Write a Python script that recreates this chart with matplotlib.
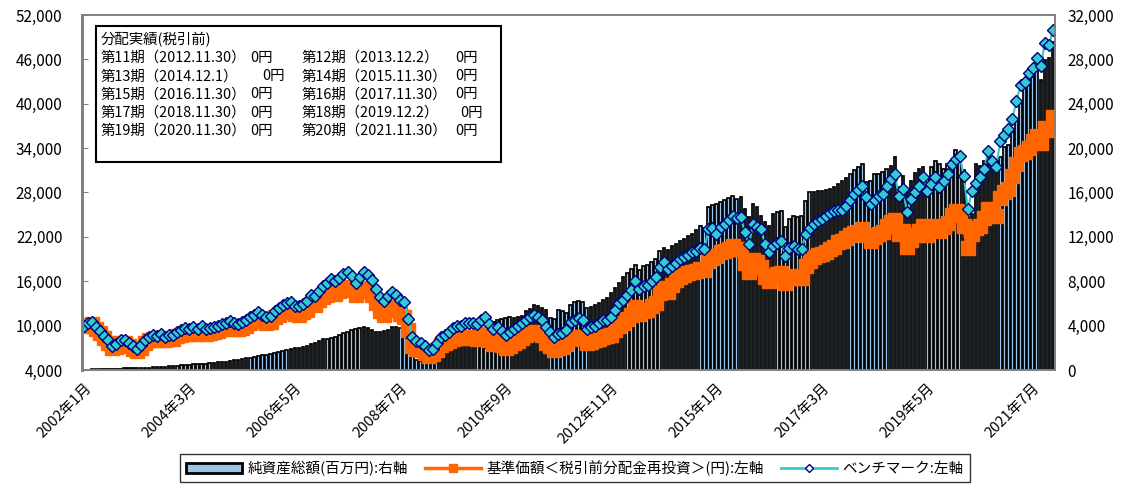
import numpy as np
import matplotlib.pyplot as plt
from matplotlib.patches import Rectangle, Patch
from matplotlib.lines import Line2D
from matplotlib.ticker import FuncFormatter

plt.rcParams['font.family'] = ['Noto Sans CJK JP', 'DejaVu Sans']

# 月次：2002年1月～2021年12月
months = [f"{y}年{m}月" for y in range(2002, 2022) for m in range(1, 13)]

# 純資産総額(百万円)：右軸
net_assets = [
    30, 40, 60, 70, 80, 90, 100, 110, 110, 130, 140, 150,                        # 2002
    160, 170, 180, 190, 210, 230, 250, 280, 300, 320, 350, 380,                  # 2003
    420, 460, 480, 500, 520, 550, 580, 600, 640, 680, 720, 760,                  # 2004
    800, 860, 900, 960, 1050, 1120, 1200, 1280, 1330, 1380, 1450, 1550,          # 2005
    1600, 1680, 1780, 1900, 1950, 1980, 2080, 2200, 2350, 2450, 2600, 2750,      # 2006
    2800, 2900, 3000, 3150, 3300, 3470, 3600, 3700, 3800, 3920, 3800, 3600,      # 2007
    3450, 3400, 3500, 3630, 3920, 3850, 3750, 3800, 2450, 1500, 900, 800,        # 2008
    750, 700, 750, 1000, 1540, 1800, 2000, 2270, 2300, 2250, 2300, 2270,         # 2009
    2300, 2270, 2350, 1990, 4380, 4300, 4500, 4600, 4700, 4750, 4700, 4800,      # 2010
    4900, 5300, 5500, 5900, 5800, 5600, 5400, 4700, 4600, 5440, 5300, 5170,      # 2011
    5900, 6160, 6190, 6150, 5620, 5700, 5900, 6070, 6300, 6530, 6900, 7430,      # 2012
    7800, 8340, 8700, 9070, 9500, 9000, 9360, 9500, 9700, 10000, 10720, 11000,   # 2013
    10800, 11180, 11400, 11630, 11800, 12080, 12300, 12600, 13000, 12800, 14680, 14900,  # 2014
    15000, 15140, 15300, 15500, 15700, 15400, 15600, 14500, 13800, 14960, 14700, 13900,  # 2015
    13300, 13000, 14050, 14200, 14350, 12870, 13600, 13900, 13800, 13900, 15260, 16040,  # 2016
    16000, 16160, 16100, 16200, 16300, 16500, 16770, 17000, 17300, 17680, 18000, 18300,  # 2017
    18580, 16950, 17000, 17680, 17700, 17830, 18100, 18430, 19220, 16500, 17500, 16000,  # 2018
    17070, 17800, 18130, 18310, 17300, 18300, 18880, 18580, 18130, 18600, 18880, 19790,  # 2019
    19340, 18000, 13750, 14050, 18580, 18430, 18800, 19220, 18430, 18600, 19220, 20100,  # 2020
    20240, 21450, 22660, 24170, 25380, 25900, 26450, 27200, 26140, 27950, 28100, 29600,  # 2021
]

# 基準価額＜税引前分配金再投資＞(円)：左軸
nav = [
    10000, 10100, 10200, 9500, 9000, 8300, 7700, 7000, 7100, 7600, 7700, 7200,
    6900, 6600, 7000, 7700, 8000, 8200, 8100, 8300, 8000, 8200, 8200, 8600,
    8800, 9000, 8900, 9100, 8900, 9200, 8900, 9000, 9100, 9300, 9500, 9700,
    9800, 9600, 9500, 9700, 10000, 10400, 10600, 10900, 10600, 10300, 10500, 11100,
    11500, 11800, 12000, 12200, 11600, 11500, 11800, 12100, 12900, 12800, 13400, 13900,
    14200, 14600, 14300, 14700, 15000, 15200, 14800, 14100, 14700, 15100, 14800, 14200,
    13100, 12000, 11500, 12100, 12500, 12200, 11600, 11200, 9400, 7300, 6800, 6700,
    6300, 5900, 6100, 6700, 7400, 7600, 7900, 8200, 8300, 8300, 8500, 8500,
    8300, 8200, 8600, 8900, 8100, 7500, 7800, 7400, 7000, 7300, 7600, 7900,
    8300, 8700, 9000, 9200, 9000, 8700, 7700, 7200, 6700, 7000, 7100, 7500,
    8200, 8400, 8500, 8300, 7600, 7800, 8000, 8200, 8500, 8600, 8800, 9400,
    10000, 10400, 10900, 11400, 12500, 11600, 12000, 12100, 12600, 13100, 14400, 15100,
    14600, 15500, 16200, 16600, 16900, 17100, 17300, 17400, 17700, 17500, 18800, 19200,
    19400, 19900, 20100, 20300, 20700, 20300, 20400, 18500, 17300, 18900, 18600, 17900,
    16600, 16000, 16700, 17000, 17100, 15800, 16500, 16700, 16500, 16500, 18000, 18800,
    19300, 19600, 19700, 20000, 20300, 20600, 21300, 21400, 21900, 22200, 22500, 22700,
    23100, 22200, 21500, 22000, 22400, 22700, 23500, 24000, 24300, 22400, 22800, 20600,
    21600, 22200, 22800, 23500, 22300, 23000, 23500, 22800, 23300, 23900, 24900, 25500,
    25400, 23500, 20500, 22400, 23200, 23500, 24500, 25800, 25200, 24800, 27300, 28000,
    28500, 30200, 31800, 33200, 33500, 34000, 34900, 35600, 34700, 36700, 36500, 38200,
]

# ベンチマーク：左軸
bench = [
    10000, 10300, 10500, 9800, 9300, 8600, 8000, 7300, 7500, 8000, 8100, 7600,
    7200, 6900, 7400, 8100, 8500, 8700, 8600, 8900, 8500, 8800, 8800, 9200,
    9400, 9700, 9500, 9800, 9600, 9900, 9600, 9700, 9850, 10000, 10200, 10400,
    10600, 10300, 10200, 10500, 10800, 11200, 11500, 11800, 11400, 11100, 11300, 12000,
    12400, 12800, 13000, 13250, 12700, 12600, 12900, 13300, 14200, 14000, 14700, 15300,
    15800, 16300, 16000, 16500, 17000, 17300, 16700, 15800, 16600, 17200, 16900, 16200,
    15000, 13900, 13300, 14000, 14600, 14200, 13500, 13250, 10900, 8500, 7900, 7700,
    7200, 6700, 6900, 7600, 8500, 8800, 9200, 9700, 9900, 10000, 10300, 10400,
    10300, 10200, 10700, 11100, 10200, 9500, 9800, 9300, 8800, 9200, 9600, 9900,
    10300, 10800, 11100, 11500, 11200, 10800, 9850, 9200, 8500, 8900, 9000, 9440,
    10500, 10800, 11000, 10800, 9500, 9800, 10000, 10300, 10700, 10800, 11200, 12160,
    13000, 13500, 14200, 14800, 16000, 14900, 15300, 15500, 16000, 16600, 17900, 18600,
    17600, 18000, 18500, 19000, 19300, 19600, 19900, 20100, 20500, 20300, 23000, 23200,
    22400, 23300, 23700, 24300, 24800, 24500, 24700, 22600, 21000, 23700, 23300, 23000,
    21000, 20000, 20800, 21200, 21400, 19400, 20500, 20700, 20400, 20300, 22400, 23200,
    23700, 24200, 24400, 24800, 25200, 25500, 25700, 25600, 26200, 27000, 27800, 28300,
    28900, 27400, 26400, 27000, 27500, 27800, 28900, 29800, 30500, 27500, 28500, 25300,
    27100, 28000, 28900, 30100, 28200, 29200, 30100, 28800, 29600, 30500, 31900, 32500,
    33000, 30200, 25800, 28200, 29300, 30100, 31200, 33600, 32300, 31500, 34900, 35800,
    36600, 38000, 40400, 42500, 43000, 44100, 44800, 46200, 45100, 48200, 47900, 50000,
]

dist_title = "分配実績(税引前)"
dist_rows = [
    ("第11期（2012.11.30）", "0円", "第12期（2013.12.2）", "0円"),
    ("第13期（2014.12.1）", "0円", "第14期（2015.11.30）", "0円"),
    ("第15期（2016.11.30）", "0円", "第16期（2017.11.30）", "0円"),
    ("第17期（2018.11.30）", "0円", "第18期（2019.12.2）", "0円"),
    ("第19期（2020.11.30）", "0円", "第20期（2021.11.30）", "0円"),
]

labels = ["純資産総額(百万円):右軸", "基準価額＜税引前分配金再投資＞(円):左軸", "ベンチマーク:左軸"]

W, H = 1124, 486
L, R, T, B = 82, 1055, 15, 370
fig = plt.figure(figsize=(W / 100, H / 100), dpi=100)
ax = fig.add_axes([L / W, (H - B) / H, (R - L) / W, (B - T) / H])
ax2 = ax.twinx()

x = np.arange(len(months))
ax2.bar(x, net_assets, width=0.62, color='#9DC3E6', edgecolor='black', linewidth=1.25)
ax.plot(x, nav, color='#FF6600', lw=3, marker='s', ms=10, mec='#FF6600', mfc='#FF6600')
ax.plot(x, bench, color='#33CCCC', lw=1.5, marker='D', ms=6.2, mfc='#33CCCC', mec='#000080', mew=1)

ax.set_zorder(ax2.get_zorder() + 1)
ax.patch.set_visible(False)

ax.set_xlim(-0.5, len(months) - 0.5)
ax.set_ylim(4000, 52000)
ax.set_yticks(np.arange(4000, 52001, 6000))
ax2.set_ylim(0, 32000)
ax2.set_yticks(np.arange(0, 32001, 4000))
fmt = FuncFormatter(lambda v, p: f"{v:,.0f}")
ax.yaxis.set_major_formatter(fmt)
ax2.yaxis.set_major_formatter(fmt)

ax.set_xticks(x[::26])
ax.set_xticklabels(months[::26], rotation=45, ha='right', va='top', rotation_mode='anchor', fontsize=10.5)
ax.tick_params(axis='x', length=0, pad=8)
ax.tick_params(axis='y', direction='in', length=4, pad=14, labelsize=11, color='#808080')
ax2.tick_params(axis='y', length=0, pad=9, labelsize=11)

for a in (ax, ax2):
    for s in a.spines.values():
        s.set_color('#808080')
        s.set_linewidth(1.2)
ax.spines['left'].set_linewidth(2)
ax2.spines['left'].set_linewidth(2)

# 分配実績ボックス
def px(xp, yp):
    return (xp - L) / (R - L), (B - yp) / (B - T)

bx0, by0 = px(96, 162)
bx1, by1 = px(501, 26)
ax.add_patch(Rectangle((bx0, by0), bx1 - bx0, by1 - by0, transform=ax.transAxes,
                       facecolor='white', edgecolor='black', lw=1.5, zorder=5))
tx, ty = px(101, 40)
ax.text(tx, ty, dist_title, transform=ax.transAxes, fontsize=10.4, va='center', ha='left', zorder=6)
amt1_x = [250, 262, 250, 250, 250]
amt2_x = [455, 455, 455, 460, 455]
for k, (p1, a1, p2, a2) in enumerate(dist_rows):
    yy = 58 + k * 18.2
    for xp, s in ((101, p1), (amt1_x[k], a1), (302, p2), (amt2_x[k], a2)):
        tx, ty = px(xp, yy)
        ax.text(tx, ty, s, transform=ax.transAxes, fontsize=10.4, va='center', ha='left', zorder=6)

handles = [
    Patch(facecolor='#9DC3E6', edgecolor='black', lw=2),
    Line2D([], [], color='#FF6600', lw=2.5, marker='s', ms=6, mec='#FF6600'),
    Line2D([], [], color='#33CCCC', lw=2, marker='D', ms=4, mfc='white', mec='#000080'),
]
leg = fig.legend(handles, labels, loc='center', bbox_to_anchor=(575 / W, 1 - 468 / H), ncol=3,
                 fontsize=10.5, frameon=True, fancybox=False, edgecolor='black',
                 handlelength=3.8, handletextpad=0.4, columnspacing=1.2, borderpad=0.45)
leg.get_frame().set_linewidth(1.0)

fig.savefig('out.png', dpi=100)
